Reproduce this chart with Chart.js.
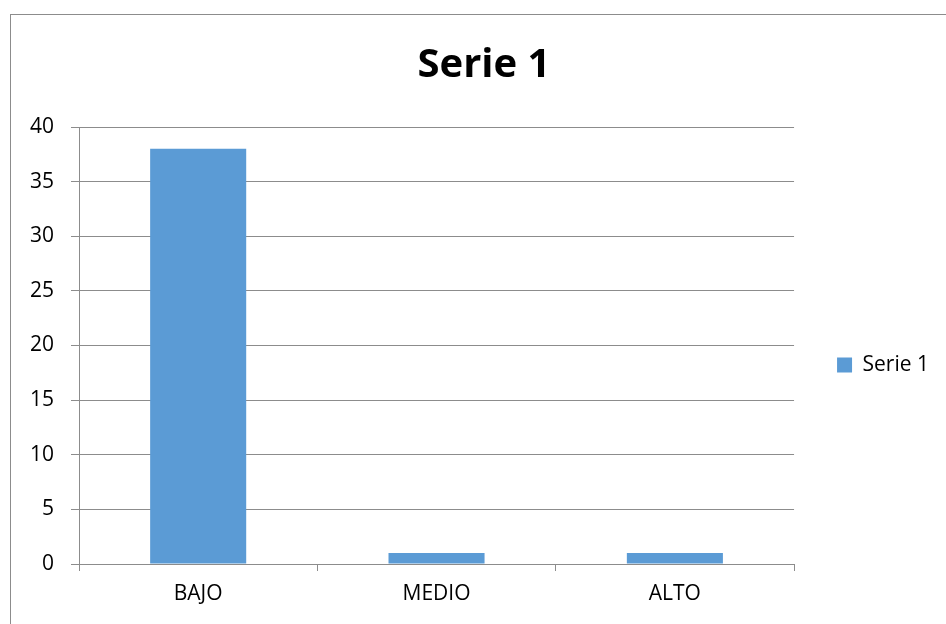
<!DOCTYPE html>
<html>
<head>
<meta charset="utf-8">
<script src="https://cdn.jsdelivr.net/npm/chart.js@4"></script>
<style>
  html, body { margin: 0; padding: 0; background: #fff; overflow: hidden; }
  #wrap { position: relative; width: 946px; height: 624px; }
  #frame { position: absolute; left: 10px; top: 14px; width: 960px; height: 700px; border: 1px solid #8c8c8c; box-sizing: border-box; }
  #myChart { position: absolute; left: 0; top: 0; }
</style>
</head>
<body>
<div id="wrap">
  <div id="frame"></div>
  <canvas id="myChart" width="946" height="624"></canvas>
</div>
<script>
const categories = ['BAJO', 'MEDIO', 'ALTO'];
const serie1 = [38, 1, 1];
const seriesName = 'Serie 1';
const yTicks = [0, 5, 10, 15, 20, 25, 30, 35, 40];

const gridGray = '#8c8c8c';
const barBlue = '#5b9bd5';

const ctx = document.getElementById('myChart');

const data = {
    labels: categories,
    datasets: [
        {
            label: seriesName,
            backgroundColor: barBlue,
            borderWidth: 0,
            data: serie1,
            barPercentage: 0.403,
            categoryPercentage: 1
        }
    ]
};

const options = {
    responsive: false,
    animation: false,
    layout: {
        padding: { left: 29, right: 7, top: 0, bottom: 0 }
    },
    scales: {
        x: {
            grid: {
                display: true,
                offset: true,
                drawOnChartArea: false,
                tickLength: 7,
                color: gridGray
            },
            border: { color: gridGray },
            ticks: {
                color: '#000',
                padding: 10,
                font: { family: 'Open Sans', size: 21 }
            },
            afterFit: function (scale) { scale.height = 60; }
        },
        y: {
            min: 0,
            max: yTicks[yTicks.length - 1],
            grid: {
                color: gridGray,
                tickLength: 8
            },
            border: { color: gridGray },
            ticks: {
                stepSize: yTicks[1] - yTicks[0],
                color: '#000',
                padding: 17,
                font: { family: 'Open Sans', size: 21 }
            },
            afterFit: function (scale) { scale.width = 50; }
        }
    },
    plugins: {
        title: {
            display: true,
            text: seriesName,
            color: '#000',
            font: { family: 'Open Sans', size: 40, weight: 'bold' },
            padding: { top: 42, bottom: 37 }
        },
        legend: {
            position: 'right',
            // empty title only pushes the single item down to where it sits in the original
            title: {
                display: true,
                text: ' ',
                font: { size: 10 },
                padding: { top: 94, bottom: 0 }
            },
            labels: {
                color: '#000',
                boxWidth: 15,
                boxHeight: 15,
                padding: 43,
                font: { family: 'Open Sans', size: 21 }
            }
        },
        tooltip: { enabled: false }
    }
};

const myChart = new Chart(ctx, { type: 'bar', data: data, options: options });
</script>
</body>
</html>
